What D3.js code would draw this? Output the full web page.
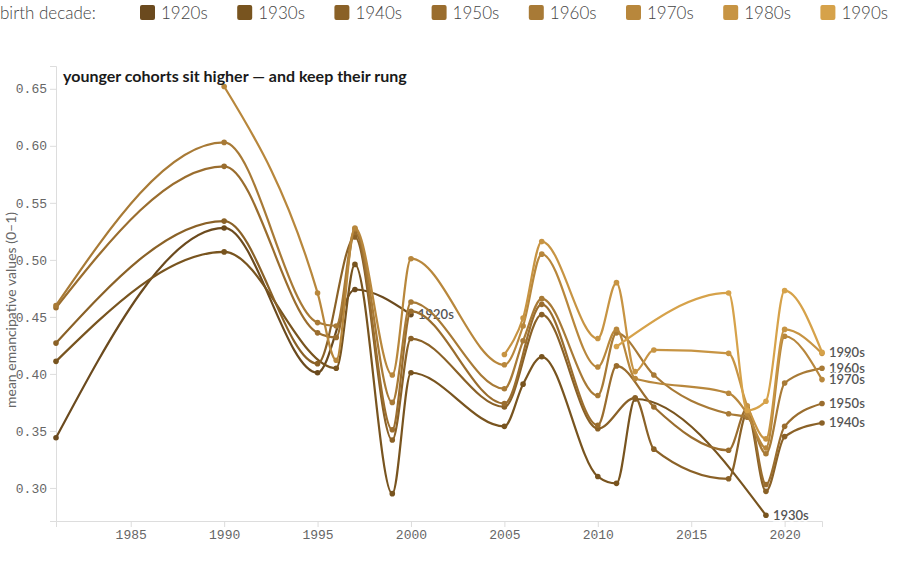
<!DOCTYPE html>
<html>
<head>
<meta charset="utf-8">
<script src="https://cdn.jsdelivr.net/npm/d3@7"></script>
<style>
  body { margin: 0; background: #fff; }
  svg { display: block; font-family: Lato, "Open Sans", sans-serif; }
  .axis text { font-family: "Liberation Mono", "DejaVu Sans Mono", monospace; font-size: 13px; fill: #666; }
  .axis path, .axis line { stroke: #ddd; }
</style>
</head>
<body>
<div id="chart"></div>
<script>
// cohorts (birth decade) and their colours
const decades = ['1920s', '1930s', '1940s', '1950s', '1960s', '1970s', '1980s', '1990s'];
const colors = ['#6b4a1e', '#78541f', '#8a6127', '#9a6d2e', '#a87a36', '#b8873c', '#c79443', '#d6a24a'];

// survey years and mean values per cohort
const years1920s = [1981, 1990, 1995, 1997, 2000];
const values1920s = [0.344, 0.528, 0.401, 0.474, 0.452];

const years1930s = [1981, 1990, 1996, 1997, 1999, 2000, 2005, 2006, 2007, 2010, 2011, 2012, 2019];
const values1930s = [0.411, 0.507, 0.405, 0.496, 0.295, 0.401, 0.354, 0.391, 0.415, 0.310, 0.304, 0.378, 0.276];

const years1940s = [1981, 1990, 1995, 1997, 1999, 2000, 2005, 2007, 2010, 2012, 2013, 2017, 2018, 2019, 2020, 2022];
const values1940s = [0.427, 0.534, 0.409, 0.520, 0.342, 0.431, 0.371, 0.452, 0.352, 0.379, 0.334, 0.308, 0.366, 0.297, 0.345, 0.357];

const years1950s = [1981, 1990, 1995, 1996, 1997, 1999, 2000, 2005, 2007, 2010, 2011, 2013, 2017, 2018, 2019, 2020, 2022];
const values1950s = [0.458, 0.582, 0.436, 0.432, 0.524, 0.351, 0.455, 0.374, 0.461, 0.355, 0.407, 0.371, 0.333, 0.370, 0.303, 0.354, 0.374];

const years1960s = [1981, 1990, 1995, 1996, 1997, 1999, 2000, 2005, 2006, 2007, 2010, 2011, 2013, 2017, 2018, 2019, 2020, 2022];
const values1960s = [0.460, 0.603, 0.445, 0.442, 0.527, 0.375, 0.463, 0.387, 0.429, 0.466, 0.381, 0.436, 0.399, 0.365, 0.362, 0.330, 0.392, 0.405];

const years1970s = [1990, 1995, 1996, 1997, 1999, 2000, 2005, 2006, 2007, 2010, 2011, 2012, 2017, 2018, 2019, 2020, 2022];
const values1970s = [0.652, 0.471, 0.412, 0.528, 0.399, 0.501, 0.408, 0.442, 0.505, 0.406, 0.439, 0.396, 0.383, 0.365, 0.335, 0.433, 0.395];

const years1980s = [2005, 2006, 2007, 2010, 2011, 2012, 2013, 2017, 2018, 2019, 2020, 2022];
const values1980s = [0.417, 0.449, 0.516, 0.431, 0.480, 0.402, 0.421, 0.418, 0.372, 0.343, 0.439, 0.418];

const years1990s = [2011, 2017, 2018, 2019, 2020, 2022];
const values1990s = [0.424, 0.471, 0.368, 0.376, 0.473, 0.419];

const xTicks = [1985, 1990, 1995, 2000, 2005, 2010, 2015, 2020];
const yTicks = [0.30, 0.35, 0.40, 0.45, 0.50, 0.55, 0.60, 0.65];

const allYears = [years1920s, years1930s, years1940s, years1950s, years1960s, years1970s, years1980s, years1990s];
const allValues = [values1920s, values1930s, values1940s, values1950s, values1960s, values1970s, values1980s, values1990s];

const series = decades.map(function (d, i) {
    return {
        name: d,
        color: colors[i],
        points: allYears[i].map(function (y, j) { return {year: y, value: allValues[i][j]}; })
    };
});

const width = 900, height = 564;
const margin = {top: 66, right: 78, bottom: 43, left: 56};

const svg = d3.select('#chart').append('svg')
    .attr('width', width)
    .attr('height', height);

const x = d3.scaleLinear()
    .domain([1981, 2022])
    .range([margin.left, width - margin.right]);

const y = d3.scaleLinear()
    .domain([0.271, 0.670])
    .range([height - margin.bottom, margin.top]);

// legend
const legend = svg.append('g').attr('class', 'legend');
legend.append('text')
    .attr('x', 0)
    .attr('y', 19)
    .style('font-size', '17px')
    .style('font-weight', 300)
    .style('fill', '#444')
    .text('birth decade:');
const item = legend.selectAll('.item')
    .data(series)
    .enter().append('g')
    .attr('class', 'item')
    .attr('transform', function (d, i) { return 'translate(' + (140 + i * 97.2) + ',0)'; });
item.append('rect')
    .attr('x', 0).attr('y', 5)
    .attr('width', 15).attr('height', 15)
    .attr('rx', 2)
    .attr('fill', function (d) { return d.color; });
item.append('text')
    .attr('x', 21)
    .attr('y', 19)
    .style('font-size', '17px')
    .style('font-weight', 300)
    .style('fill', '#444')
    .text(function (d) { return d.name; });

// axes
svg.append('g')
    .attr('class', 'axis axis--x')
    .attr('transform', 'translate(0,' + (height - margin.bottom) + ')')
    .call(d3.axisBottom(x).tickValues(xTicks).tickFormat(d3.format('d')));

svg.append('g')
    .attr('class', 'axis axis--y')
    .attr('transform', 'translate(' + margin.left + ',0)')
    .call(d3.axisLeft(y).tickValues(yTicks).tickFormat(d3.format('.2f')));

svg.append('text')
    .attr('transform', 'translate(16,310) rotate(-90)')
    .attr('text-anchor', 'middle')
    .style('font-size', '14px')
    .style('fill', '#666')
    .text('mean emancipative values (0–1)');

// lines
const line = d3.line()
    .x(function (d) { return x(d.year); })
    .y(function (d) { return y(d.value); })
    .curve(d3.curveMonotoneX);

const cohort = svg.selectAll('.cohort')
    .data(series)
    .enter().append('g')
    .attr('class', 'cohort');

cohort.append('path')
    .attr('d', function (d) { return line(d.points); })
    .attr('fill', 'none')
    .attr('stroke', function (d) { return d.color; })
    .attr('stroke-width', 2.2);

cohort.selectAll('circle')
    .data(function (d) { return d.points.map(function (p) { return {p: p, color: d.color}; }); })
    .enter().append('circle')
    .attr('cx', function (d) { return x(d.p.year); })
    .attr('cy', function (d) { return y(d.p.value); })
    .attr('r', 2.8)
    .attr('fill', function (d) { return d.color; });

// end labels
cohort.append('text')
    .attr('x', function (d) { return x(d.points[d.points.length - 1].year) + 7; })
    .attr('y', function (d) { return y(d.points[d.points.length - 1].value); })
    .attr('dy', '0.35em')
    .style('font-size', '13px')
    .style('font-weight', 600)
    .style('fill', '#555')
    .style('paint-order', 'stroke')
    .style('stroke', '#fff')
    .style('stroke-width', 3)
    .text(function (d) { return d.name; });

// title
svg.append('text')
    .attr('x', 63)
    .attr('y', 82)
    .style('font-size', '16px')
    .style('font-weight', 700)
    .style('fill', '#1a1a1a')
    .text('younger cohorts sit higher — and keep their rung');
</script>
</body>
</html>
